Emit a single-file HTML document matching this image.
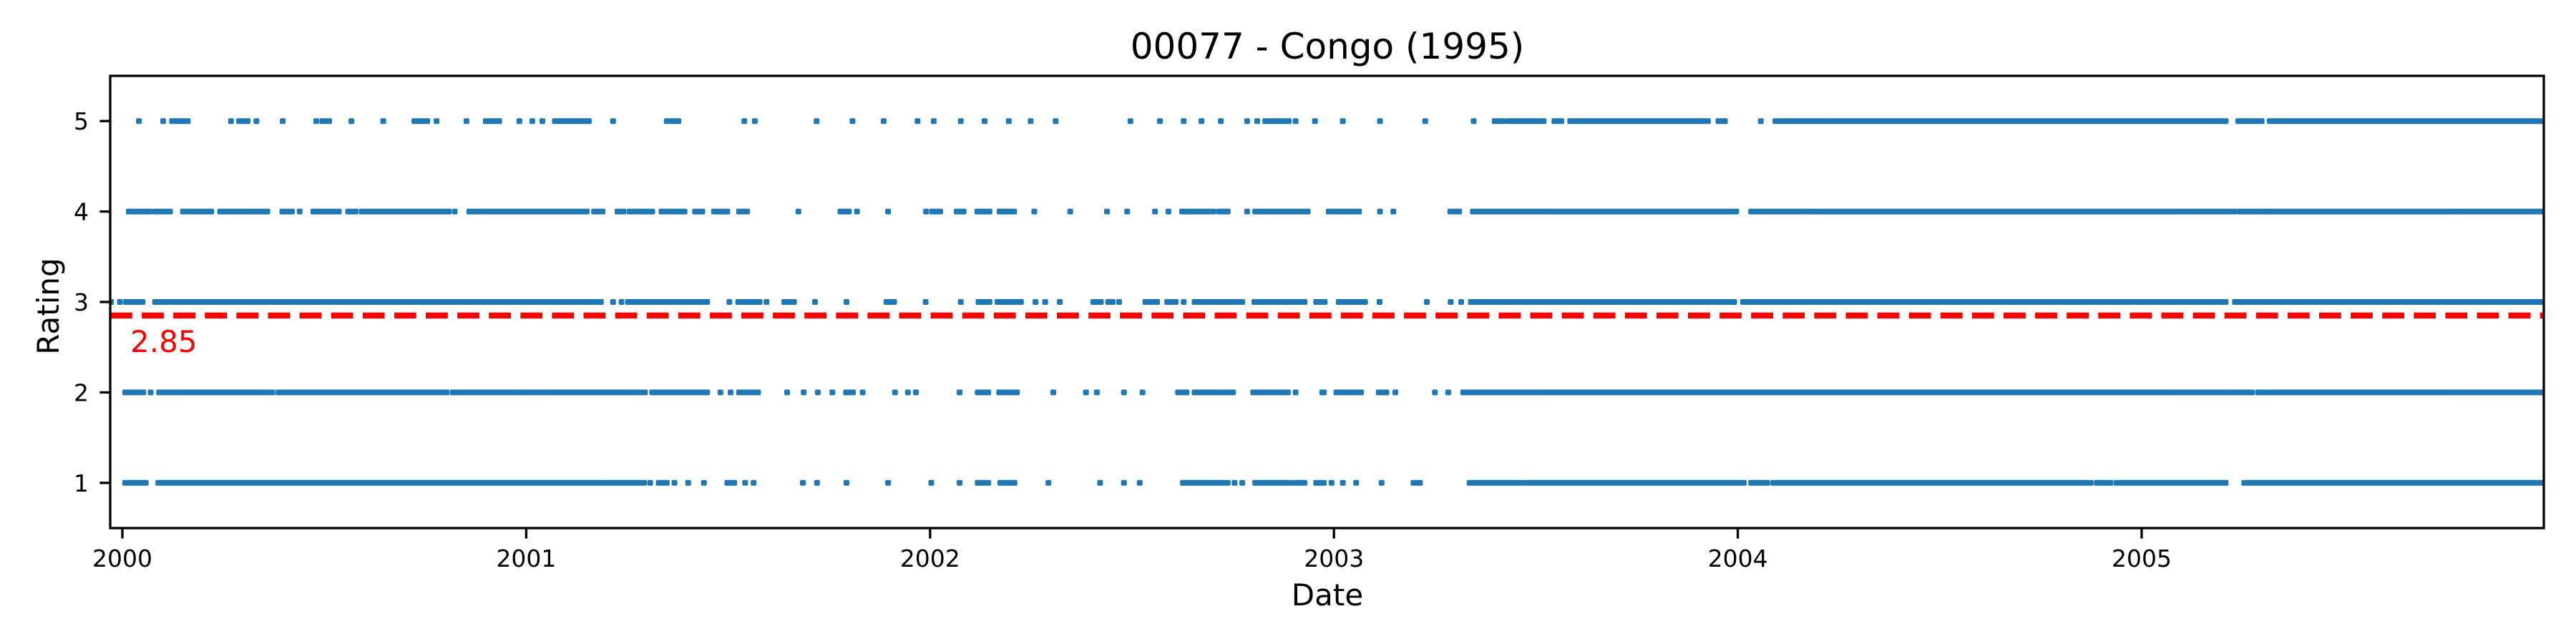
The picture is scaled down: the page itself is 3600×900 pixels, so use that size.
<!DOCTYPE html>
<html><head><meta charset="utf-8"><style>html,body{margin:0;padding:0;background:#fff}svg{display:block}text{font-family:"DejaVu Sans","Liberation Sans",sans-serif}</style></head>
<body>
<svg id="chart" width="3600" height="900" viewBox="0 0 3600 900" xmlns="http://www.w3.org/2000/svg">
<rect x="0" y="0" width="3600" height="900" fill="#fff"/>
<text x="1855" y="82" font-size="50" text-anchor="middle">00077 - Congo (1995)</text>
<g id="marks"></g>
<g id="axes"></g>
<text x="1855" y="846" font-size="42" text-anchor="middle">Date</text>
<text x="0" y="0" font-size="42" text-anchor="middle" transform="translate(82,428) rotate(-90)">Rating</text>
</svg>
<script>
// Data: runs of ratings as [start, end] in years since 2000-01-01
const ratings = [5, 4, 3, 2, 1];
const runs5 = [[.041,.041],[.101,.101],[.123,.162],[.269,.269],[.289,.310],[.332,.332],[.397,.397],[.480,.480],[.495,.512],[.567,.567],[.646,.646],[.723,.755],[.778,.778],[.852,.852],[.900,.933],[.983,.983],[1.015,1.015],[1.040,1.040],[1.071,1.155],[1.215,1.215],[1.348,1.377],
[1.540,1.540],[1.566,1.566],[1.719,1.719],[1.808,1.808],[1.885,1.885],[1.969,1.969],[2.009,2.009],[2.076,2.076],[2.135,2.135],[2.195,2.195],[2.249,2.249],[2.311,2.311],[2.496,2.496],[2.569,2.569],[2.628,2.628],[2.672,2.672],[2.720,2.720],[2.785,2.785],[2.810,2.810],[2.830,2.849],[2.859,2.888],[2.905,2.905],[2.953,2.953],
[3.022,3.022],[3.114,3.114],[3.226,3.226],[3.346,3.346],[3.398,3.417],[3.430,3.519],[3.546,3.563],[3.585,3.926],[3.952,3.968],[4.057,4.057],[4.093,4.227],[4.237,5.208],[5.239,5.297],[5.317,5.995]];
const runs4 = [[.016,.068],[.081,.118],[.150,.220],[.242,.322],[.330,.359],[.396,.420],[.439,.439],[.473,.536],[.559,.578],[.593,.808],[.823,.823],[.859,1.150],[1.168,1.189],[1.226,1.241],[1.256,1.312],[1.335,1.341],[1.351,1.392],[1.418,1.436],[1.465,1.498],[1.527,1.547],[1.674,1.674],[1.778,1.799],[1.819,1.819],[1.896,1.896],[1.990,1.990],[2.005,2.025],[2.066,2.083],[2.117,2.147],[2.172,2.208],[2.258,2.258],[2.347,2.347],[2.438,2.438],[2.488,2.488],[2.557,2.557],[2.590,2.590],[2.624,2.701],[2.715,2.737],[2.785,2.785],[2.805,2.935],[2.987,3.062],[3.114,3.114],[3.147,3.147],[3.288,3.310],[3.344,3.996],[4.033,5.229],[5.241,5.305],[5.312,5.995]];
const runs3 = [[-.028,-.028],[-.006,-.006],[.009,.050],[.081,1.185],[1.215,1.215],[1.236,1.236],[1.252,1.448],[1.503,1.503],[1.525,1.578],[1.595,1.595],[1.639,1.663],[1.715,1.715],[1.793,1.793],[1.892,1.911],[1.989,1.989],[2.076,2.076],[2.120,2.147],[2.167,2.225],[2.261,2.261],[2.285,2.285],[2.321,2.321],[2.404,2.423],[2.441,2.452],[2.468,2.468],[2.533,2.562],[2.587,2.608],[2.628,2.628],[2.655,2.744],[2.752,2.773],[2.803,2.886],[2.898,2.927],[2.956,2.977],[3.012,3.077],[3.113,3.113],[3.230,3.230],[3.289,3.289],[3.315,3.315],[3.339,3.991],[4.013,5.208],[5.231,5.231],[5.239,5.995]];
const runs2 = [[.007,.052],[.070,.070],[.091,.371],[.386,.803],[.818,.979],[.991,1.294],[1.312,1.448],[1.481,1.481],[1.506,1.506],[1.527,1.547],[1.558,1.574],[1.646,1.646],[1.687,1.687],[1.722,1.722],[1.758,1.758],[1.792,1.809],[1.833,1.833],[1.913,1.913],[1.945,1.945],[1.965,1.965],[2.073,2.073],[2.118,2.144],[2.171,2.215],[2.305,2.305],[2.386,2.386],[2.413,2.413],[2.480,2.480],[2.526,2.526],[2.614,2.635],[2.655,2.701],[2.711,2.750],[2.800,2.886],[2.905,2.905],[2.971,2.975],[3.006,3.067],[3.111,3.130],[3.152,3.152],[3.250,3.250],[3.283,3.283],[3.320,3.473],[3.482,5.218],[5.229,5.273],[5.288,5.302],[5.315,5.995]];
const runs1 = [[.007,.058],[.089,1.185],[1.195,1.292],[1.307,1.307],[1.328,1.348],[1.367,1.367],[1.401,1.401],[1.440,1.440],[1.498,1.515],[1.542,1.542],[1.563,1.563],[1.685,1.685],[1.720,1.720],[1.793,1.793],[1.896,1.896],[2.003,2.003],[2.073,2.073],[2.118,2.144],[2.174,2.209],[2.293,2.293],[2.421,2.421],[2.480,2.480],[2.519,2.519],[2.626,2.698],[2.708,2.737],[2.754,2.754],[2.773,2.773],[2.805,2.886],[2.898,2.927],[2.956,2.975],[2.994,2.994],[3.022,3.022],[3.055,3.055],[3.118,3.118],[3.197,3.213],[3.336,3.461],[3.473,4.015],[4.033,4.073],[4.088,4.874],[4.889,4.901],[4.908,4.923],[4.938,5.208],[5.254,5.995]];
const meanRating = 2.85;
const xTickLabels = ["2000","2001","2002","2003","2004","2005"];
const xTickValues = [0,1,2,3,4,5];
const yTickValues = [1,2,3,4,5];

const NS = "http://www.w3.org/2000/svg";
const L = 154, R = 3555, T = 106, B = 738;
const x0px = 171, pxPerYear = 564.4;
function xScale(v){ return x0px + v * pxPerYear; }
function yScale(v){ return B - (v - 0.5) / 5 * (B - T); }
function mk(tag, attrs, parent){ const e = document.createElementNS(NS, tag); for (const k in attrs) e.setAttribute(k, attrs[k]); parent.appendChild(e); return e; }

const marks = document.getElementById('marks');
const allRuns = {5: runs5, 4: runs4, 3: runs3, 2: runs2, 1: runs1};
ratings.forEach(function(r){
  const g = mk('g', {}, marks);
  
  
  allRuns[r].forEach(function(run){
    const xs = Math.max(L, xScale(run[0]) - 4), xe = Math.min(R, xScale(run[1]) + 4);
    const rc = mk('rect', {x: xs, y: yScale(r) - 4, width: xe - xs, height: 8, rx: 2, fill: '#1f77b4'}, g);
    
    
  });
});
const ml = mk('line', {x1: L, x2: R, y1: yScale(meanRating), y2: yScale(meanRating), stroke: '#ff0000', 'stroke-width': 8.3, 'stroke-dasharray': '30.8 13.3'}, marks);


const mt = mk('text', {x: 182, y: yScale(meanRating) + 51, 'font-size': 42, fill: '#ff0000'}, marks);
mt.textContent = meanRating.toFixed(2);



const axes = document.getElementById('axes');
const frame = mk('rect', {x: L, y: T, width: R - L, height: B - T, fill: 'none', stroke: '#000', 'stroke-width': 3.3}, axes);


xTickValues.forEach(function(v, i){
  const x = xScale(v);
  const t = mk('line', {x1: x, x2: x, y1: B, y2: B + 14.6, stroke: '#000', 'stroke-width': 3.3}, axes);
  
  
  const tl = mk('text', {x: x, y: 792, 'font-size': 33, 'text-anchor': 'middle'}, axes);
  tl.textContent = xTickLabels[i];
  
  
});
yTickValues.forEach(function(v){
  const y = yScale(v);
  const t = mk('line', {x1: L - 14.6, x2: L, y1: y, y2: y, stroke: '#000', 'stroke-width': 3.3}, axes);
  
  
  const tl = mk('text', {x: 124, y: y + 12, 'font-size': 33, 'text-anchor': 'end'}, axes);
  tl.textContent = String(v);
  
  
});
</script>
</body></html>
